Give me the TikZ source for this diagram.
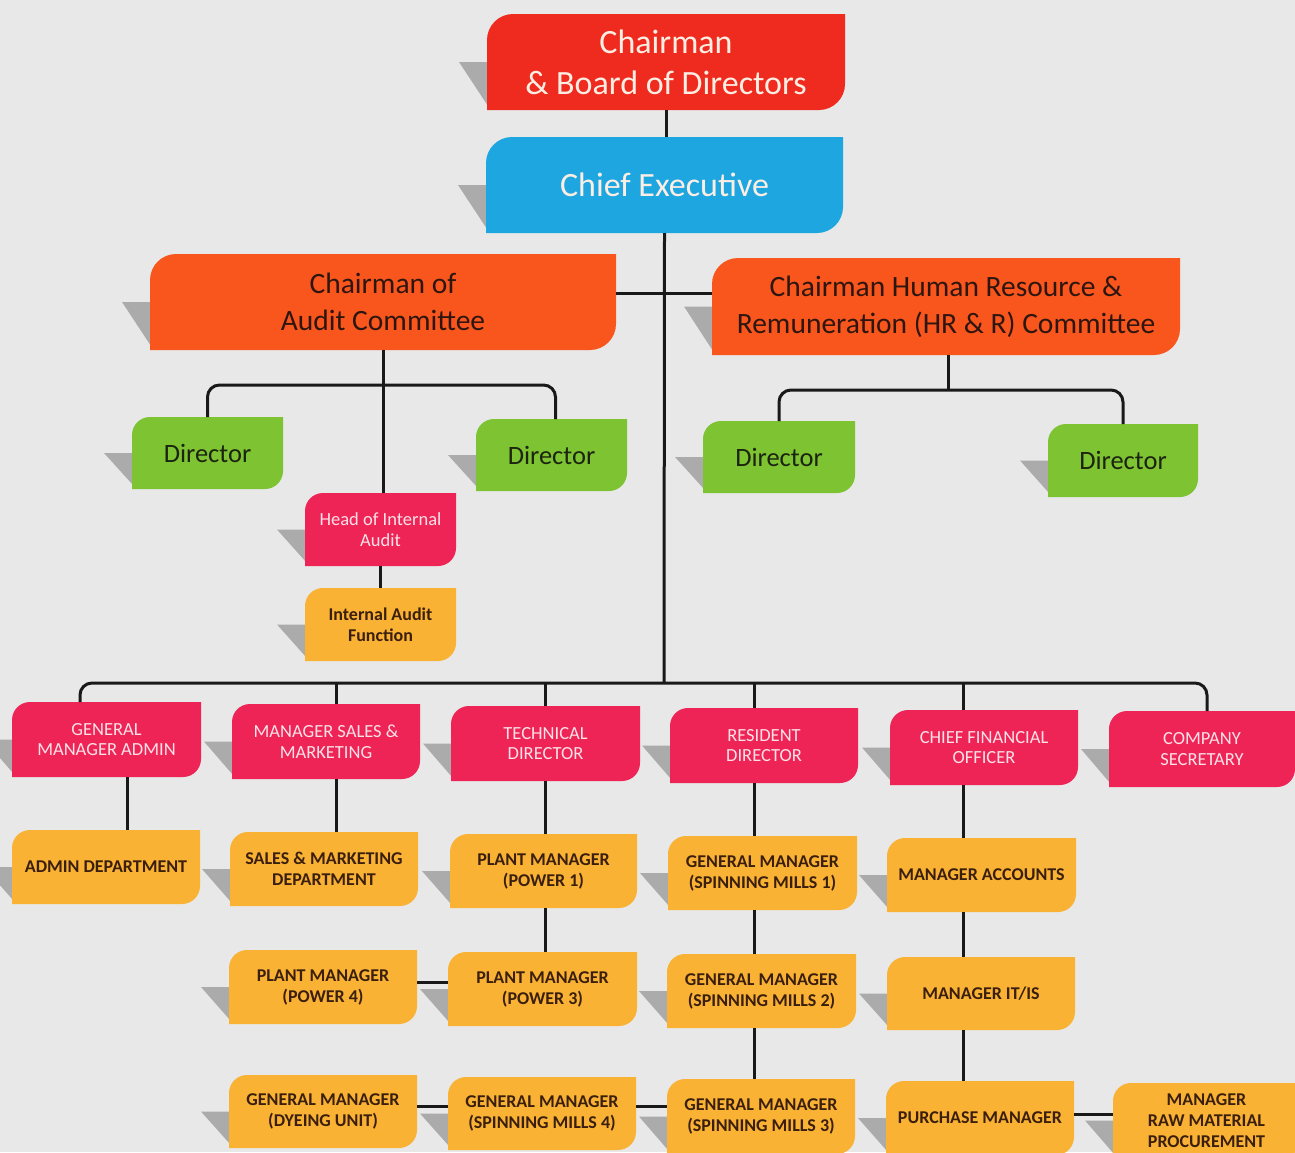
\documentclass[tikz,border=0pt]{standalone}
\usepackage{fontspec}
\setmainfont{Carlito}
\definecolor{bg}{HTML}{E8E8E8}
\definecolor{shd}{HTML}{ABABAB}
\definecolor{cRed}{HTML}{EF2B1F}
\definecolor{cBlue}{HTML}{1DA6E0}
\definecolor{cOrange}{HTML}{F9561E}
\definecolor{cGreen}{HTML}{7DC332}
\definecolor{cPink}{HTML}{EE2456}
\definecolor{cYellow}{HTML}{F9B233}
\definecolor{lightTxt}{HTML}{FDEEE4}
\definecolor{pinkTxt}{HTML}{FCE2E8}
\definecolor{darkTxt}{HTML}{2E1610}
\definecolor{greenTxt}{HTML}{1C2410}
\definecolor{brownTxt}{HTML}{3B1F0E}
\tikzset{
  conn/.style={line width=3pt, draw=black!90},
  lbl/.style={inner sep=0pt, outer sep=0pt, align=center},
  tRed/.style={lbl, text=lightTxt, font=\fontsize{34}{41}\selectfont},
  tBlue/.style={lbl, text=lightTxt, font=\fontsize{34}{41}\selectfont},
  tOrange/.style={lbl, text=darkTxt, font=\fontsize{29.5}{37}\selectfont},
  tGreen/.style={lbl, text=greenTxt, font=\fontsize{26.5}{30}\selectfont},
  tPink/.style={lbl, text=pinkTxt, font=\fontsize{18.5}{20.5}\selectfont},
  tYellow/.style={lbl, text=brownTxt, font=\bfseries\fontsize{18}{21}\selectfont},
}
\newcommand\orgbox[8]{%
  \fill[shd] ({#3-28},{(#4+#6)/2}) -- ({#3+1},{(#4+#6)/2}) -- ({#3+1},{#6-4}) -- cycle;
  \fill[c#2] ({#3},{#6}) -- ({#3},{#4+#7}) .. controls ({#3},{#4+0.448*#7}) and ({#3+0.448*#7},{#4}) .. ({#3+#7},{#4}) -- ({#5},{#4}) -- ({#5},{#6-#7}) .. controls ({#5},{#6-0.448*#7}) and ({#5-0.448*#7},{#6}) .. ({#5-#7},{#6}) -- cycle;
  \node[t#2, minimum width={#5-#3}, minimum height={#6-#4}] (#1) at ({(#3+#5)/2},{(#4+#6)/2}) {#8};
}
\begin{document}
\begin{tikzpicture}[x=1pt,y=-1pt]
\fill[bg] (0,0) rectangle (1295,1152);
\useasboundingbox (0,0) rectangle (1295,1152);
\clip (0,0) rectangle (1295,1152);

% top
\orgbox{chair}{Red}{487}{14}{845}{110}{26}{Chairman\\\& Board of Directors}
\orgbox{ce}{Blue}{486}{137}{843}{233}{26}{Chief Executive}
\orgbox{aud}{Orange}{150}{254}{616}{350}{26}{Chairman of\\Audit Committee}
\orgbox{hr}{Orange}{712}{258}{1180}{355}{26}{Chairman Human Resource \&\\Remuneration (HR \& R) Committee}
\orgbox{d1}{Green}{132}{417}{283}{489}{18}{Director}
\orgbox{d2}{Green}{476}{419}{627}{491}{18}{Director}
\orgbox{d3}{Green}{703}{421}{855}{493}{18}{Director}
\orgbox{d4}{Green}{1048}{424}{1198}{497}{18}{Director}
\orgbox{hia}{Pink}{305}{493}{456}{566}{18}{Head of Internal\\Audit}
\orgbox{iaf}{Yellow}{305}{588}{456}{661}{18}{Internal Audit\\Function}

% pink row
\orgbox{gma}{Pink}{12}{702}{201}{777}{18}{GENERAL\\MANAGER ADMIN}
\orgbox{msm}{Pink}{232}{704}{420}{779}{18}{MANAGER SALES \&\\MARKETING}
\orgbox{td}{Pink}{451}{706}{640}{781}{18}{TECHNICAL\\DIRECTOR}
\orgbox{rd}{Pink}{670}{708}{858}{783}{18}{RESIDENT\\DIRECTOR}
\orgbox{cfo}{Pink}{890}{710}{1078}{785}{18}{CHIEF FINANCIAL\\OFFICER}
\orgbox{cs}{Pink}{1109}{711}{1295}{787}{18}{COMPANY\\SECRETARY}

% yellow rows
\orgbox{ad}{Yellow}{12}{830}{200}{904}{18}{ADMIN DEPARTMENT}
\orgbox{smd}{Yellow}{230}{832}{418}{906}{18}{SALES \& MARKETING\\DEPARTMENT}
\orgbox{pma}{Yellow}{450}{834}{637}{908}{18}{PLANT MANAGER\\(POWER 1)}
\orgbox{sma}{Yellow}{668}{836}{857}{910}{18}{GENERAL MANAGER\\(SPINNING MILLS 1)}
\orgbox{ma}{Yellow}{887}{838}{1076}{912}{18}{MANAGER ACCOUNTS}

\orgbox{pmd}{Yellow}{229}{950}{417}{1024}{18}{PLANT MANAGER\\(POWER 4)}
\orgbox{pmc}{Yellow}{448}{952}{637}{1026}{18}{PLANT MANAGER\\(POWER 3)}
\orgbox{smb}{Yellow}{667}{954}{856}{1028}{18}{GENERAL MANAGER\\(SPINNING MILLS 2)}
\orgbox{it}{Yellow}{887}{957}{1075}{1030}{18}{MANAGER IT/IS}

\orgbox{dye}{Yellow}{229}{1075}{417}{1148}{18}{GENERAL MANAGER\\(DYEING UNIT)}
\orgbox{smd4}{Yellow}{448}{1077}{636}{1150}{18}{GENERAL MANAGER\\(SPINNING MILLS 4)}
\orgbox{smc}{Yellow}{667}{1079}{855}{1154}{18}{GENERAL MANAGER\\(SPINNING MILLS 3)}
\orgbox{pur}{Yellow}{886}{1081}{1074}{1155}{18}{PURCHASE MANAGER}
\orgbox{raw}{Yellow}{1113}{1083}{1300}{1158}{18}{MANAGER\\RAW MATERIAL\\PROCUREMENT}

% helper coordinates
\coordinate (hl) at (664,293);
\coordinate (abus) at (383,385);
\coordinate (hbus) at (948,390);
\coordinate (bus) at (664,683);
\coordinate (bL) at (80,683);
\coordinate (bR) at (1207,683);
\coordinate (c1) at (127,0);
\coordinate (c2) at (336,0);
\coordinate (c3) at (545,0);
\coordinate (c4) at (754,0);
\coordinate (c5) at (963,0);
\coordinate (r2) at (0,982);
\coordinate (r3) at (0,1106);
\coordinate (r3b) at (0,1114);

% connectors
\draw[conn] (chair.south) -- (ce.north -| chair.south);
\draw[conn] (ce.south) -- (bus);
\draw[conn] (aud.east |- hl) -- (hr.west |- hl);
\draw[conn] (aud.south) -- (hia.north -| aud.south);
\draw[conn, rounded corners=12] (d1.north) |- (abus) -| ([xshift=4pt]d2.north);
\draw[conn] (hr.south -| hbus) -- (hbus);
\draw[conn, rounded corners=12] (d3.north) |- (hbus) -| (d4.north);
\draw[conn] (hia.south) -- (iaf.north);
\draw[conn, rounded corners=12] (gma.north -| bL) |- (bus) -| (cs.north -| bR);
\draw[conn] (bus -| c2) -- (msm.north -| c2);
\draw[conn] (bus -| c3) -- (td.north -| c3);
\draw[conn] (bus -| c4) -- (rd.north -| c4);
\draw[conn] (bus -| c5) -- (cfo.north -| c5);

\draw[conn] (gma.south -| c1) -- (ad.north -| c1);
\draw[conn] (msm.south -| c2) -- (smd.north -| c2);
\draw[conn] (td.south -| c3) -- (pma.north -| c3);
\draw[conn] (pma.south -| c3) -- (pmc.north -| c3);
\draw[conn] (rd.south -| c4) -- (sma.north -| c4);
\draw[conn] (sma.south -| c4) -- (smb.north -| c4);
\draw[conn] (smb.south -| c4) -- (smc.north -| c4);
\draw[conn] (cfo.south -| c5) -- (ma.north -| c5);
\draw[conn] (ma.south -| c5) -- (it.north -| c5);
\draw[conn] (it.south -| c5) -- (pur.north -| c5);

\draw[conn] (pmd.east |- r2) -- (pmc.west |- r2);
\draw[conn] (dye.east |- r3) -- (smd4.west |- r3);
\draw[conn] (smd4.east |- r3) -- (smc.west |- r3);
\draw[conn] (pur.east |- r3b) -- (raw.west |- r3b);
\end{tikzpicture}
\end{document}
